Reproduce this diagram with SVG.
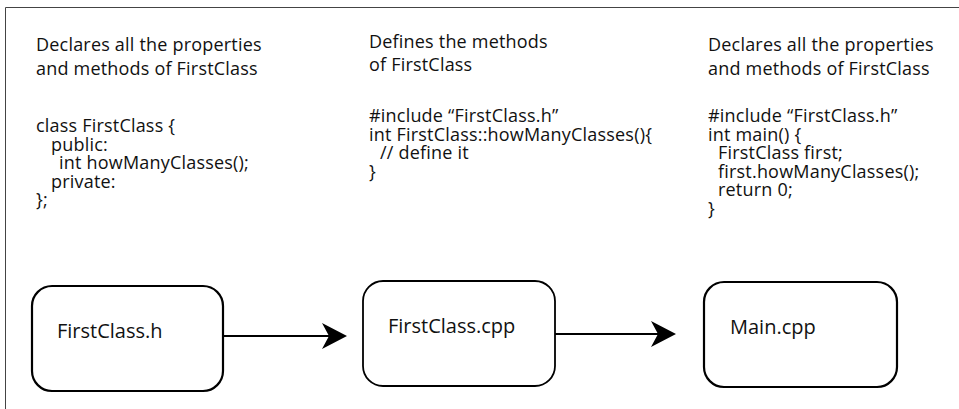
<svg xmlns="http://www.w3.org/2000/svg" width="959" height="409" viewBox="0 0 959 409">
<defs>
<style>
.t{font-family:"Open Sans","Noto Sans","Liberation Sans",sans-serif;font-size:18px;letter-spacing:0.2px;fill:#111}
.lb{font-family:"Open Sans","Noto Sans","Liberation Sans",sans-serif;font-size:20px;fill:#111}
.box{fill:#fff;stroke:#000;stroke-width:2.2}
.con{stroke:#000;stroke-width:2.2;fill:none}
</style>
</defs>
<rect width="959" height="409" fill="#fff"/>
<path d="M5.5 409 V7.5 H959" fill="none" stroke="#444" stroke-width="1"/>

<g id="col1-text">
<text class="t"><tspan x="36" y="51">Declares all the properties</tspan><tspan x="36" y="75">and methods of FirstClass</tspan></text>
<text class="t"><tspan x="36" y="132">class FirstClass {</tspan><tspan x="51" y="150.5">public:</tspan><tspan x="59" y="169">int howManyClasses();</tspan><tspan x="51" y="187.5">private:</tspan><tspan x="36" y="206">};</tspan></text>
</g>
<g id="col2-text">
<text class="t"><tspan x="369" y="48">Defines the methods</tspan><tspan x="369" y="71">of FirstClass</tspan></text>
<text class="t"><tspan x="369" y="122">#include “FirstClass.h”</tspan><tspan x="369" y="140.5">int FirstClass::howManyClasses(){</tspan><tspan x="380" y="159">// define it</tspan><tspan x="369" y="177.5">}</tspan></text>
</g>
<g id="col3-text">
<text class="t"><tspan x="708" y="51">Declares all the properties</tspan><tspan x="708" y="75">and methods of FirstClass</tspan></text>
<text class="t"><tspan x="708" y="122">#include “FirstClass.h”</tspan><tspan x="708" y="140.5">int main() {</tspan><tspan x="718" y="159">FirstClass first;</tspan><tspan x="718" y="177.5">first.howManyClasses();</tspan><tspan x="718" y="196">return 0;</tspan><tspan x="708" y="214.5">}</tspan></text>
</g>

<g id="node-firstclass-h">
<rect class="box" x="32" y="286" width="191" height="105" rx="20"/>
<text class="lb" x="57" y="338">FirstClass.h</text>
</g>
<g id="node-firstclass-cpp">
<rect class="box" x="363" y="281" width="192" height="105" rx="20" style="stroke-width:1.8"/>
<text class="lb" x="388" y="333">FirstClass.cpp</text>
</g>
<g id="node-main-cpp">
<rect class="box" x="704" y="282" width="193" height="105" rx="20"/>
<text class="lb" x="730" y="334">Main.cpp</text>
</g>

<g id="connectors">
<line class="con" x1="223" y1="336" x2="330" y2="336"/>
<path d="M347 336 L322 323 L329 336 L322 349 Z" fill="#000"/>
<line class="con" x1="555" y1="334" x2="660" y2="334"/>
<path d="M676 334 L651 321 L658 334 L651 347 Z" fill="#000"/>
</g>
</svg>
